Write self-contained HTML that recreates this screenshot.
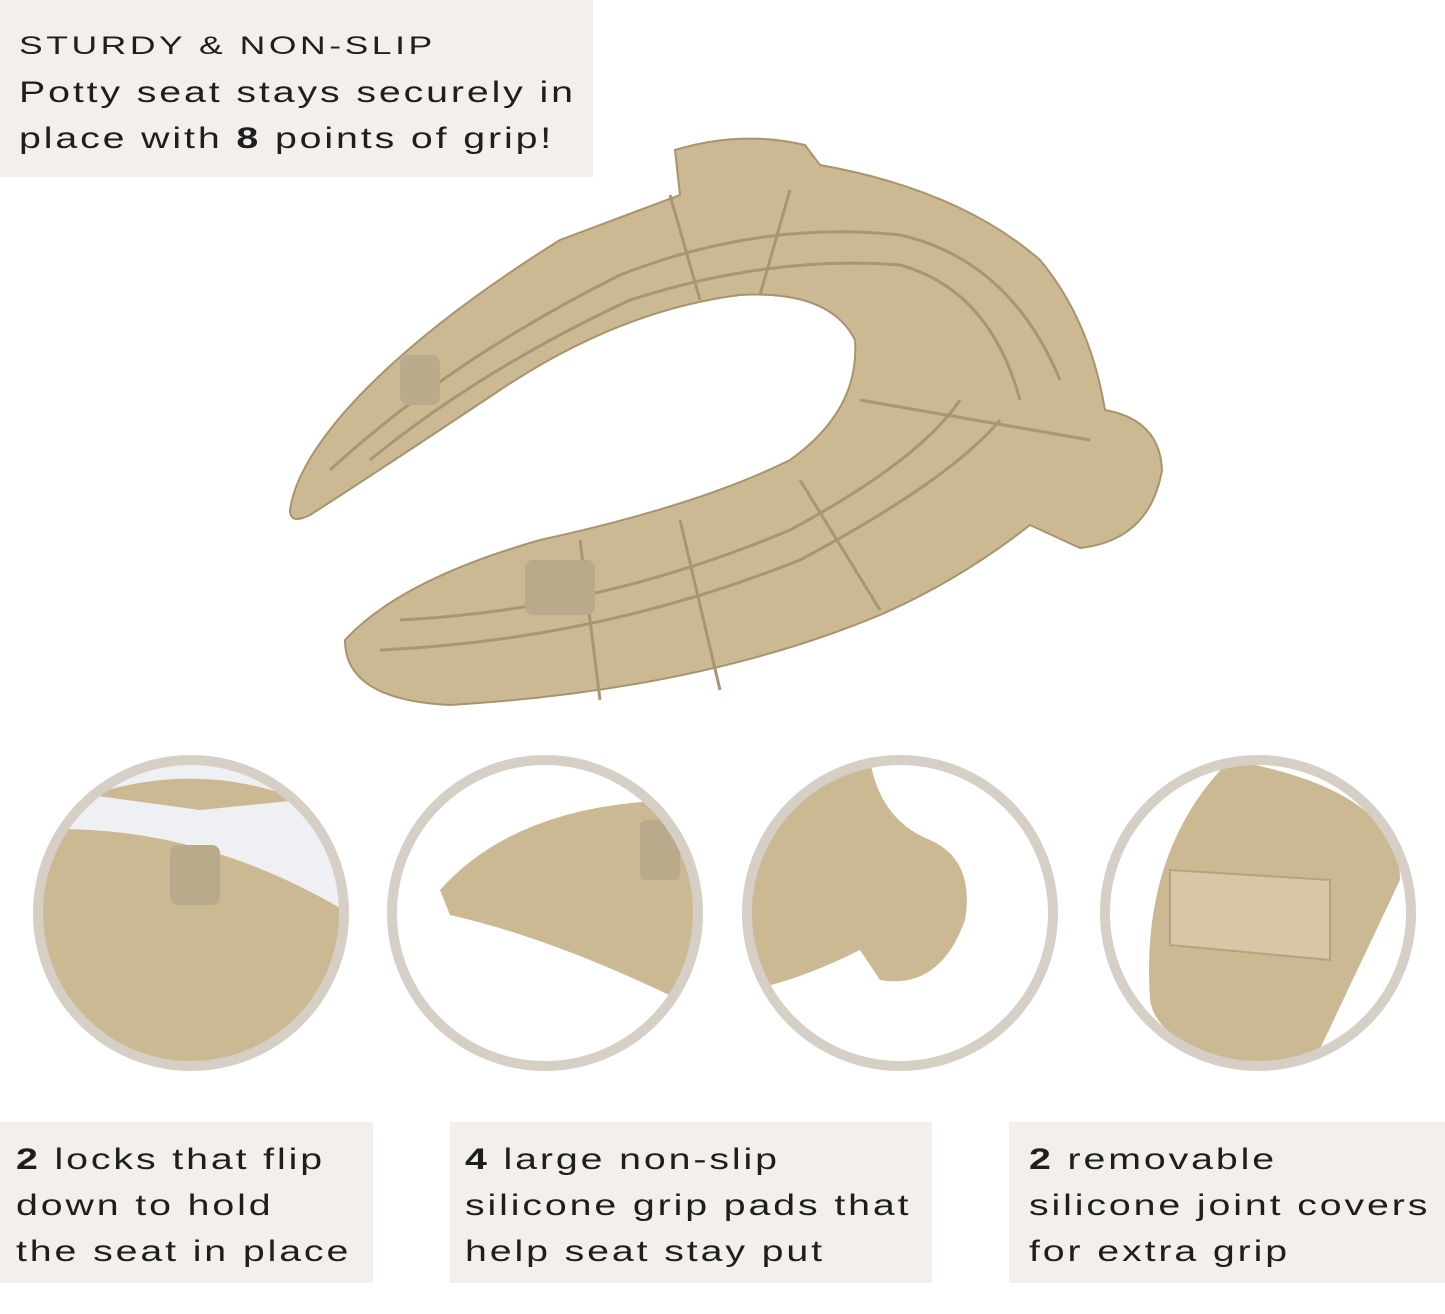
<!DOCTYPE html>
<html><head><meta charset="utf-8"><style>
html,body{margin:0;padding:0;background:#fff;}
body{width:1445px;height:1314px;position:relative;overflow:hidden;font-family:"Liberation Sans",sans-serif;color:#1e1e1e;}
.box{position:absolute;background:#f3f0eb;}
.t{position:absolute;font-size:30px;letter-spacing:2.2px;line-height:46px;white-space:nowrap;transform:scaleX(1.31);transform-origin:0 0;}
svg{position:absolute;left:0;top:0;}
</style></head><body>
<div class="box" style="left:0;top:0;width:593px;height:177px"></div>
<div class="t" style="left:19px;top:23px;font-size:25px;letter-spacing:2.5px;transform:scaleX(1.42)">STURDY &amp; NON-SLIP</div>
<div class="t" style="left:19px;top:70px">Potty seat stays securely in<br>place with <b>8</b> points of grip!</div>

<svg width="1445" height="1314" viewBox="0 0 1445 1314">
<defs>
<clipPath id="c1"><circle cx="191" cy="913" r="150"/></clipPath>
<clipPath id="c2"><circle cx="545" cy="913" r="150"/></clipPath>
<clipPath id="c3"><circle cx="900" cy="913" r="150"/></clipPath>
<clipPath id="c4"><circle cx="1258" cy="913" r="150"/></clipPath>
</defs>
<path d="M290,510 C300,440 400,340 560,240 L680,195 L675,150 Q740,130 805,145 L820,165 Q960,190 1040,260 Q1090,320 1105,410 Q1160,420 1162,470 Q1150,540 1080,548 L1030,525 Q960,580 880,615 Q700,690 450,705 Q345,700 345,640 Q400,580 540,540 Q700,505 790,460 Q860,410 855,340 Q830,290 740,295 Q620,310 500,390 Q380,470 310,515 Q290,525 290,510 Z" fill="#cbb994" stroke="#a8946c" stroke-width="2"/>
<g fill="none" stroke="#a99670" stroke-width="3">
<path d="M330,470 Q450,360 620,275 Q760,220 900,235 Q1010,260 1060,380"/>
<path d="M370,460 Q480,370 630,300 Q770,255 900,265 Q990,290 1020,400"/>
<path d="M380,650 Q600,640 800,560 Q950,480 1000,420"/>
<path d="M400,620 Q600,610 790,530 Q920,460 960,400"/>
<path d="M670,195 L700,300 M790,190 L760,295 M860,400 L1090,440 M800,480 L880,610 M680,520 L720,690 M580,540 L600,700"/>
</g>
<rect x="525" y="560" width="70" height="55" rx="8" fill="#b9aa8c"/>
<rect x="400" y="355" width="40" height="50" rx="8" fill="#b9aa8c"/>

<g clip-path="url(#c1)"><rect x="30" y="750" width="330" height="330" fill="#eef0f3"/><path d="M30,830 Q200,820 360,920 L360,1080 L30,1080 Z" fill="#cbb994"/><path d="M90,795 Q200,760 300,800 L200,810 Z" fill="#cbb994"/><rect x="170" y="845" width="50" height="60" rx="8" fill="#b9aa8c"/></g>
<circle cx="191" cy="913" r="153" fill="none" stroke="#d5cfc6" stroke-width="10"/>
<g clip-path="url(#c2)"><path d="M440,890 Q520,800 690,800 L700,1010 Q560,940 450,915 Z" fill="#cbb994"/><rect x="640" y="820" width="40" height="60" rx="6" fill="#b9aa8c"/></g>
<circle cx="545" cy="913" r="153" fill="none" stroke="#d5cfc6" stroke-width="10"/>
<g clip-path="url(#c3)"><path d="M750,760 L870,760 Q880,820 930,840 Q975,860 965,920 Q940,990 880,980 L860,950 Q800,980 750,990 Z" fill="#cbb994"/></g>
<circle cx="900" cy="913" r="153" fill="none" stroke="#d5cfc6" stroke-width="10"/>
<g clip-path="url(#c4)"><path d="M1230,760 Q1400,790 1400,880 L1310,1070 Q1160,1060 1150,1000 Q1140,850 1230,760 Z" fill="#cbb994"/><path d="M1170,870 L1330,880 L1330,960 L1170,945 Z" fill="#d8c6a6" stroke="#b7a27e" stroke-width="2"/></g>
<circle cx="1258" cy="913" r="153" fill="none" stroke="#d5cfc6" stroke-width="10"/>
</svg>

<div class="box" style="left:0;top:1122px;width:373px;height:161px"></div>
<div class="t" style="left:16px;top:1137px"><b>2</b> locks that flip<br>down to hold<br>the seat in place</div>
<div class="box" style="left:450px;top:1122px;width:482px;height:161px"></div>
<div class="t" style="left:465px;top:1137px"><b>4</b> large non-slip<br>silicone grip pads that<br>help seat stay put</div>
<div class="box" style="left:1009px;top:1122px;width:436px;height:161px"></div>
<div class="t" style="left:1029px;top:1137px"><b>2</b> removable<br>silicone joint covers<br>for extra grip</div>
</body></html>
